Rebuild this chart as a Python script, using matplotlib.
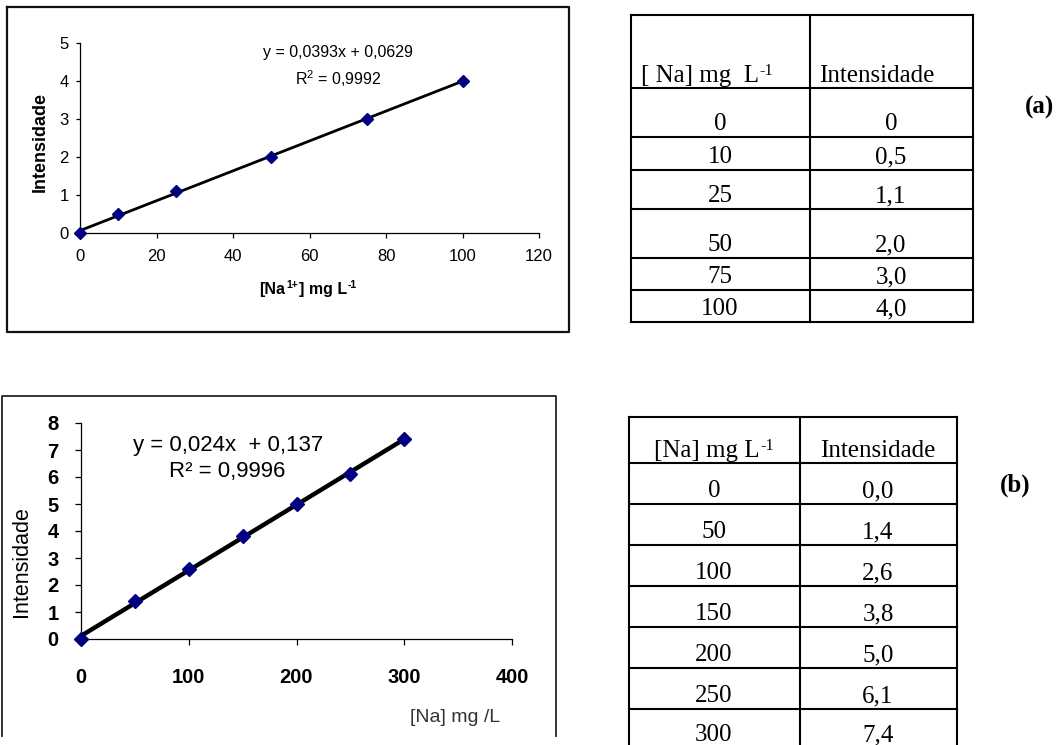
import numpy as np
import matplotlib
matplotlib.use('Agg')
import matplotlib.pyplot as plt

plt.rcParams['font.family'] = ['Liberation Sans', 'DejaVu Sans']
plt.rcParams['mathtext.fontset'] = 'custom'
plt.rcParams['mathtext.rm'] = 'Liberation Sans'
plt.rcParams['mathtext.it'] = 'Liberation Sans:italic'
plt.rcParams['mathtext.bf'] = 'Liberation Sans:bold'

# ------------------------
# Data
# ------------------------
conc_a = [0, 10, 25, 50, 75, 100]
int_a = [0.0, 0.5, 1.1, 2.0, 3.0, 4.0]
eq_a = 'y = 0,0393x + 0,0629'
r2_a = 'R$^2$ = 0,9992'

conc_b = [0, 50, 100, 150, 200, 250, 300]
int_b = [0.0, 1.4, 2.6, 3.8, 5.0, 6.1, 7.4]
eq_b = 'y = 0,024x  + 0,137'
r2_b = 'R² = 0,9996'

tab_a_conc = ['0', '10', '25', '50', '75', '100']
tab_a_int = ['0', '0,5', '1,1', '2,0', '3,0', '4,0']
tab_b_conc = ['0', '50', '100', '150', '200', '250', '300']
tab_b_int = ['0,0', '1,4', '2,6', '3,8', '5,0', '6,1', '7,4']

W, H = 1063, 745
NAVY = '#000080'
SERIF = ['Liberation Serif', 'DejaVu Serif']

fig = plt.figure(figsize=(W / 100, H / 100), dpi=100)

# overlay in pixel units for boxes, tables and free texts
over = fig.add_axes([0, 0, 1, 1], zorder=-1)
over.set_xlim(0, W)
over.set_ylim(H, 0)
over.axis('off')


def px_axes(x0, y_top, x1, y_bot):
    return fig.add_axes([x0 / W, 1 - y_bot / H, (x1 - x0) / W, (y_bot - y_top) / H])


def sup_text(x, y, parts, size, ha='left', ratio=0.65, **kw):
    # parts: list of (text, is_superscript), each piece chained after the previous one
    fig.canvas.draw()
    r = fig.canvas.get_renderer()
    total = 0.0
    for s, sup in parts:
        t = over.text(0, 0, s, fontsize=size * (ratio if sup else 1), **kw)
        total += t.get_window_extent(r).width
        t.remove()
    if ha == 'center':
        x = x - total / 2
    base = over.text(x, y, parts[0][0], fontsize=size, ha='left', va='baseline', **kw)
    prev = base
    for s, sup in parts[1:]:
        if sup:
            prev = over.annotate(s, xy=(1, 1), xycoords=prev, xytext=(0.5, 1.5),
                                 textcoords='offset points', ha='left', va='top',
                                 fontsize=size * ratio, **kw)
        else:
            prev = over.annotate(s, xy=(1, 0), xycoords=(prev, base), xytext=(0.5, 0),
                                 textcoords='offset points', ha='left', va='bottom',
                                 fontsize=size, **kw)
    return base


# ---------------------
# Chart (a)
# ---------------------
over.plot([7, 569, 569, 7, 7], [7, 7, 332, 332, 7], color='#111111', lw=1.6)

ax1 = px_axes(80, 43, 539, 233)
ax1.patch.set_alpha(0)
ca = np.polyfit(conc_a, int_a, 1)
xa = np.array([min(conc_a), max(conc_a)])
ax1.plot(xa, np.polyval(ca, xa), color='black', lw=2.0, zorder=2)
ax1.plot(conc_a, int_a, ls='none', marker='D', ms=6.5, color=NAVY, zorder=3, clip_on=False)
ax1.set_xlim(0, 120)
ax1.set_ylim(0, 5)
ax1.set_xticks(np.arange(0, 121, 20))
ax1.set_yticks(np.arange(0, 6, 1))
for s in ['top', 'right']:
    ax1.spines[s].set_visible(False)
for s in ['left', 'bottom']:
    ax1.spines[s].set_linewidth(0.9)
ax1.tick_params(axis='x', direction='out', length=3.5, width=0.9, pad=8, labelsize=12)
ax1.tick_params(axis='y', direction='out', length=3, width=0.9, pad=5, labelsize=12)
over.text(338, 53, eq_a, ha='center', va='center', fontsize=11.5)
over.text(338, 79, r2_a, ha='center', va='center', fontsize=11.5)
sup_text(307, 294, [('[Na', False), ('1+', True), ('] mg L', False), ('-1', True)],
         11.5, ha='center', fontweight='bold')
over.text(40, 142, 'Intensidade', ha='center', va='center', rotation=90,
          fontsize=13, fontweight='bold')

# ---------------------
# Chart (b)
# ---------------------
over.plot([2, 2, 556, 556], [736, 396, 396, 736], color='#222222', lw=1.3)

ax2 = px_axes(81, 423, 512, 639)
ax2.patch.set_alpha(0)
cb = np.polyfit(conc_b, int_b, 1)
xb = np.array([min(conc_b), max(conc_b)])
ax2.plot(xb, np.polyval(cb, xb), color='black', lw=3.2, zorder=2)
ax2.plot(conc_b, int_b, ls='none', marker='D', ms=7, color=NAVY, zorder=3, clip_on=False)
ax2.set_xlim(0, 400)
ax2.set_ylim(0, 8)
ax2.set_xticks(np.arange(0, 401, 100))
ax2.set_yticks(np.arange(0, 9, 1))
for s in ['top', 'right']:
    ax2.spines[s].set_visible(False)
for s in ['left', 'bottom']:
    ax2.spines[s].set_linewidth(0.9)
ax2.tick_params(axis='x', direction='out', length=4, width=0.9, pad=17, labelsize=14.5)
ax2.tick_params(axis='y', direction='out', length=4, width=0.9, pad=12, labelsize=14.5)
for lab in ax2.get_xticklabels() + ax2.get_yticklabels():
    lab.set_fontweight('bold')
over.text(228, 445, eq_b, ha='center', va='center', fontsize=16)
over.text(227, 472, r2_b, ha='center', va='center', fontsize=16)
over.text(455, 718, '[Na] mg /L', ha='center', va='center', fontsize=14, color='#333333')
over.text(22, 562, 'Intensidade', ha='center', va='center', rotation=90, fontsize=15.5)


# ---------------------
# Tables
# ---------------------
def draw_table(x0, xm, x1, lines, col1, col2, c1x, c2x):
    for y in lines:
        over.plot([x0, x1], [y, y], color='black', lw=1.5, solid_capstyle='projecting')
    for x in (x0, xm, x1):
        over.plot([x, x], [lines[0], lines[-1]], color='black', lw=1.5,
                  solid_capstyle='projecting')
    for i in range(len(col1)):
        yb = min(lines[i + 2] - 7, H - 4)
        over.text(c1x, yb, col1[i], ha='center', va='baseline', fontsize=18, family=SERIF)
        over.text(c2x, yb, col2[i], ha='center', va='baseline', fontsize=18, family=SERIF)


lines_a = [15, 88, 137, 170, 209, 258, 290, 322]
draw_table(631, 810, 973, lines_a, tab_a_conc, tab_a_int, 720, 891)
sup_text(641, 82, [('[ Na] mg  L', False), ('-1', True)], 18, family=SERIF)
over.text(819, 82, 'Intensidade', ha='left', va='baseline', fontsize=18, family=SERIF)
over.text(1040, 107, '(a)', ha='center', va='center', fontsize=18, fontweight='bold',
          family=SERIF)

lines_b = [417, 463, 504, 545, 586, 627, 668, 709, 752]
draw_table(629, 800, 957, lines_b, tab_b_conc, tab_b_int, 714, 878)
sup_text(714, 457, [('[Na] mg L', False), ('-1', True)], 18, ha='center', family=SERIF)
over.text(878, 457, 'Intensidade', ha='center', va='baseline', fontsize=18, family=SERIF)
over.text(1015, 485, '(b)', ha='center', va='center', fontsize=18, fontweight='bold',
          family=SERIF)

fig.savefig('out.png', dpi=100)
